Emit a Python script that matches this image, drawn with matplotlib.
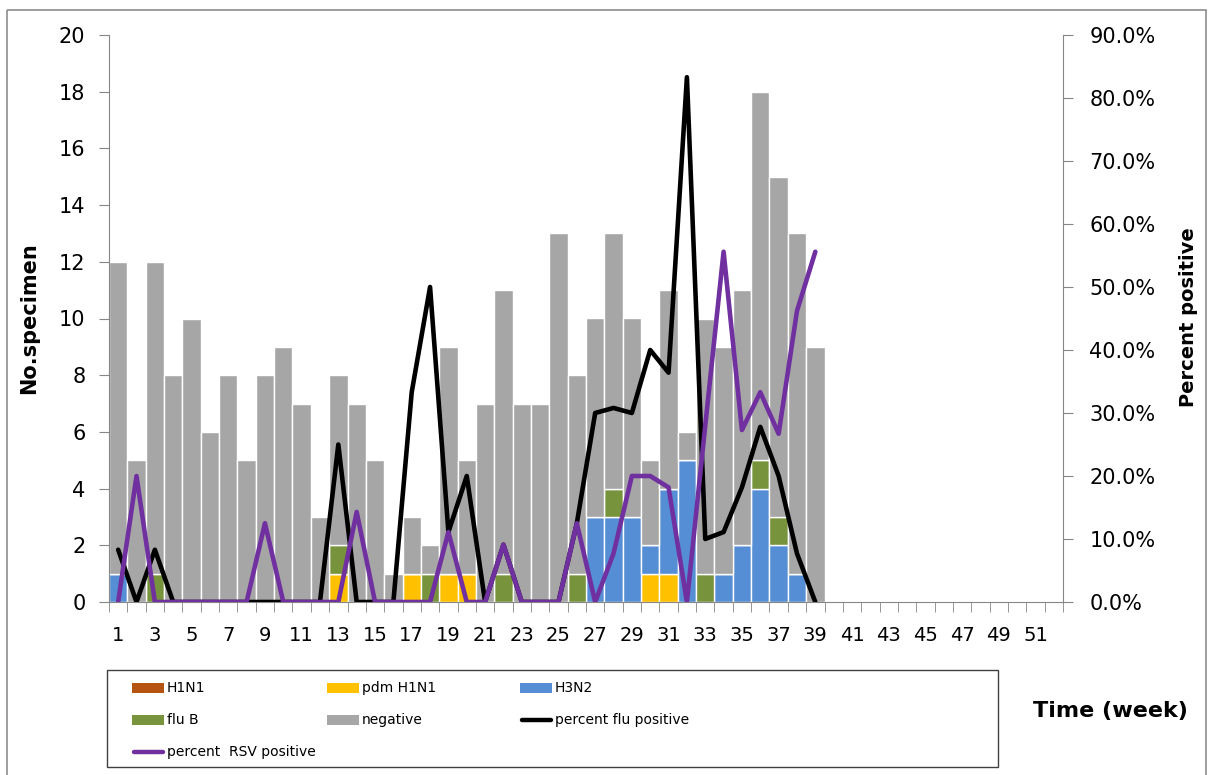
import matplotlib
matplotlib.use("Agg")
import matplotlib.pyplot as plt
from matplotlib.ticker import FuncFormatter, FixedLocator
from matplotlib.patches import Rectangle
from matplotlib.lines import Line2D

# ---------------- data ----------------
all_weeks = list(range(1, 53))
tick_weeks = list(range(1, 53, 2))
weeks = list(range(1, 40))

h1n1 = [0, 0, 0, 0, 0, 0, 0, 0, 0, 0, 0, 0, 0, 0, 0, 0, 0, 0, 0, 0,
        0, 0, 0, 0, 0, 0, 0, 0, 0, 0, 0, 0, 0, 0, 0, 0, 0, 0, 0]
pdm_h1n1 = [0, 0, 0, 0, 0, 0, 0, 0, 0, 0, 0, 0, 1, 0, 0, 0, 1, 0, 1, 1,
            0, 0, 0, 0, 0, 0, 0, 0, 0, 1, 1, 0, 0, 0, 0, 0, 0, 0, 0]
h3n2 = [1, 0, 0, 0, 0, 0, 0, 0, 0, 0, 0, 0, 0, 0, 0, 0, 0, 0, 0, 0,
        0, 0, 0, 0, 0, 0, 3, 3, 3, 1, 3, 5, 0, 1, 2, 4, 2, 1, 0]
flu_b = [0, 0, 1, 0, 0, 0, 0, 0, 0, 0, 0, 0, 1, 0, 0, 0, 0, 1, 0, 0,
         0, 1, 0, 0, 0, 1, 0, 1, 0, 0, 0, 0, 1, 0, 0, 1, 1, 0, 0]
negative = [11, 5, 11, 8, 10, 6, 8, 5, 8, 9, 7, 3, 6, 7, 5, 1, 2, 1, 8, 4,
            7, 10, 7, 7, 13, 7, 7, 9, 7, 3, 7, 1, 9, 8, 9, 13, 12, 12, 9]
pct_flu = [8.3, 0, 8.3, 0, 0, 0, 0, 0, 0, 0, 0, 0, 25.0, 0, 0, 0, 33.3, 50.0, 11.1, 20.0,
           0, 9.1, 0, 0, 0, 12.5, 30.0, 30.8, 30.0, 40.0, 36.4, 83.3, 10.0, 11.1, 18.2, 27.8, 20.0, 7.7, 0]
pct_rsv = [0, 20.0, 0, 0, 0, 0, 0, 0, 12.5, 0, 0, 0, 0, 14.3, 0, 0, 0, 0, 11.1, 0,
           0, 9.1, 0, 0, 0, 12.5, 0, 7.7, 20.0, 20.0, 18.2, 0, 28.0, 55.6, 27.3, 33.3, 26.7, 46.2, 55.6]

series = [("H1N1", h1n1, "#B45410"),
          ("pdm H1N1", pdm_h1n1, "#FFC000"),
          ("H3N2", h3n2, "#558ED5"),
          ("flu B", flu_b, "#77933C"),
          ("negative", negative, "#A6A6A6")]
flu_color = "#000000"
rsv_color = "#7030A0"

# ---------------- figure ----------------
W, H = 1208, 775
fig = plt.figure(figsize=(W / 100, H / 100), dpi=100)
plt.rcParams['font.family'] = ['DejaVu Sans']

def fx(px):
    return px / W

def fy(py):
    return 1 - py / H

L, R, T, B = 109, 1063, 35, 602
ax = fig.add_axes([fx(L), fy(B), fx(R - L), (B - T) / H])
grey = "#868686"

bottom = [0] * len(weeks)
for name, vals, col in series:
    ax.bar(weeks, vals, bottom=bottom, width=1.0, color=col,
           edgecolor="white", linewidth=1.0, zorder=2)
    bottom = [b + v for b, v in zip(bottom, vals)]

ax.set_xlim(0.5, 52.5)
ax.set_ylim(0, 20)
ax.set_yticks(range(0, 21, 2))
ax.xaxis.set_major_locator(FixedLocator(tick_weeks))
ax.set_xticklabels([str(w) for w in tick_weeks])
ax.xaxis.set_minor_locator(FixedLocator([w + 0.5 for w in [0] + all_weeks]))
ax.tick_params(axis='x', which='major', length=0, labelsize=14, pad=17)
ax.tick_params(axis='x', which='minor', length=7, color=grey, direction='out')
ax.tick_params(axis='y', length=7, color=grey, direction='out', labelsize=15, pad=10)
for s in ['top', 'right']:
    ax.spines[s].set_visible(False)
for s in ['left', 'bottom']:
    ax.spines[s].set_color(grey)

ax2 = ax.twinx()
ax2.plot(weeks, [v / 100 for v in pct_flu], color=flu_color, lw=3.3,
         solid_joinstyle='round', solid_capstyle='round', zorder=3)
ax2.plot(weeks, [v / 100 for v in pct_rsv], color=rsv_color, lw=3.3,
         solid_joinstyle='round', solid_capstyle='round', zorder=4)
ax2.set_ylim(0, 0.9)
ax2.set_yticks([i / 10 for i in range(10)])
ax2.yaxis.set_major_formatter(FuncFormatter(lambda v, p: f"{v * 100:.1f}%"))
ax2.tick_params(axis='y', length=7, color=grey, direction='out', labelsize=15, pad=12)
for s in ['top', 'left', 'bottom']:
    ax2.spines[s].set_visible(False)
ax2.spines['right'].set_color(grey)

# axis titles
fig.text(fx(29), fy(318), "No.specimen", rotation=90, ha='center', va='center',
         fontsize=15, fontweight='bold')
fig.text(fx(1188), fy(317), "Percent positive", rotation=90, ha='center', va='center',
         fontsize=14, fontweight='bold')
fig.text(fx(1110), fy(711), "Time (week)", ha='center', va='center',
         fontsize=16, fontweight='bold')

# overlay for border and legend (pixel coordinates)
ov = fig.add_axes([0, 0, 1, 1], zorder=10)
ov.set_xlim(0, W)
ov.set_ylim(H, 0)
ov.axis('off')
ov.patch.set_alpha(0)
ov.add_patch(Rectangle((7, 10), 1199, 775, fill=False, edgecolor="#8C8C8C", lw=1.2))
ov.add_patch(Rectangle((107, 670), 891, 97, fill=False, edgecolor="#404040", lw=1.0))

col_x = [132, 327, 520]
row_y = [688, 720, 752]
entries = [(0, 0, "H1N1", "bar", series[0][2]),
           (1, 0, "pdm H1N1", "bar", series[1][2]),
           (2, 0, "H3N2", "bar", series[2][2]),
           (0, 1, "flu B", "bar", series[3][2]),
           (1, 1, "negative", "bar", series[4][2]),
           (2, 1, "percent flu positive", "line", flu_color),
           (0, 2, "percent  RSV positive", "line", rsv_color)]
for c, r, lab, kind, col in entries:
    x0, y0 = col_x[c], row_y[r]
    if kind == "bar":
        ov.add_patch(Rectangle((x0, y0 - 5), 32, 10, facecolor=col, edgecolor='none'))
    else:
        ov.add_line(Line2D([x0 + 2, x0 + 31], [y0, y0], color=col, lw=3.2,
                           solid_capstyle='round'))
    ov.text(x0 + 35, y0, lab, ha='left', va='center', fontsize=10)

fig.savefig("out.png", dpi=100)
